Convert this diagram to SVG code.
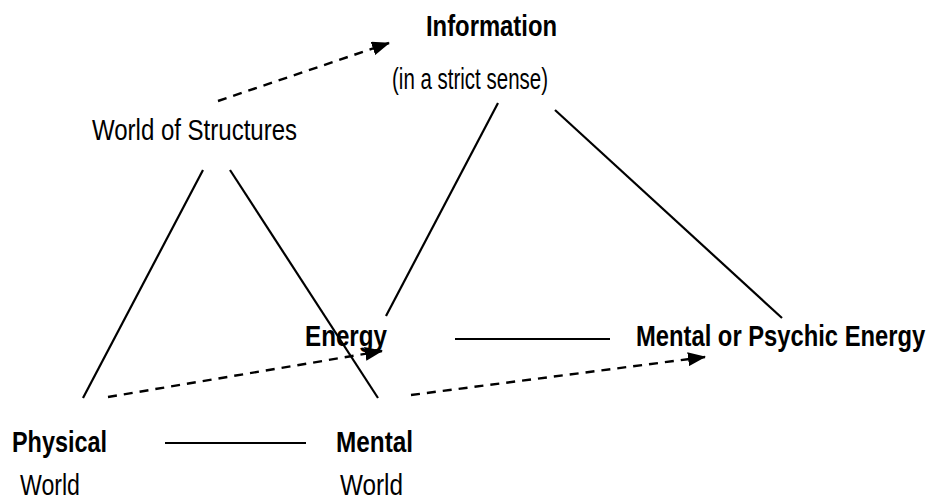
<svg xmlns="http://www.w3.org/2000/svg" width="930" height="503" viewBox="0 0 930 503">
<style>
text{font-family:"Liberation Sans Narrow","Liberation Sans",Arial,sans-serif;font-size:29px;fill:#000}
.b{font-weight:bold}
.s{stroke:#000;stroke-width:2.2;fill:none}
.d{stroke:#000;stroke-width:2.4;fill:none;stroke-dasharray:9 7}
</style>
<defs>
<marker id="ah" markerWidth="18" markerHeight="14" refX="17" refY="7" orient="auto" markerUnits="userSpaceOnUse">
<path d="M0,0 L18,7 L0,14 Z" fill="#000"/>
</marker>
</defs>
<rect width="930" height="503" fill="#fff"/>
<g id="connectors">
<line class="s" x1="203" y1="170" x2="83" y2="398"/>
<line class="s" x1="230" y1="170" x2="378" y2="398"/>
<line class="s" x1="498" y1="103" x2="386" y2="316"/>
<line class="s" x1="555" y1="110" x2="782" y2="318"/>
<line class="s" x1="455" y1="339" x2="610" y2="339"/>
<line class="s" x1="165" y1="443" x2="306" y2="443"/>
<line class="d" x1="218" y1="101" x2="389" y2="43" marker-end="url(#ah)"/>
<line class="d" x1="108" y1="397" x2="382" y2="351" marker-end="url(#ah)"/>
<line class="d" x1="411" y1="395" x2="705" y2="357" marker-end="url(#ah)"/>
</g>
<g id="information">
<text class="b" x="426" y="36" textLength="131" lengthAdjust="spacingAndGlyphs">Information</text>
<text x="392" y="89" textLength="156" lengthAdjust="spacingAndGlyphs">(in a strict sense)</text>
</g>
<g id="world-of-structures">
<text x="92" y="140" textLength="205" lengthAdjust="spacingAndGlyphs">World of Structures</text>
</g>
<g id="energy">
<text class="b" x="305" y="346" textLength="82" lengthAdjust="spacingAndGlyphs">Energy</text>
</g>
<g id="mental-energy">
<text class="b" transform="translate(636,346) scale(0.82,1)" x="0" y="0">Mental or Psychic Energy</text>
</g>
<g id="physical-world">
<text class="b" x="12" y="452" textLength="95" lengthAdjust="spacingAndGlyphs">Physical</text>
<text x="20" y="495" textLength="60" lengthAdjust="spacingAndGlyphs">World</text>
</g>
<g id="mental-world">
<text class="b" x="336" y="452" textLength="77" lengthAdjust="spacingAndGlyphs">Mental</text>
<text x="340" y="495" textLength="63" lengthAdjust="spacingAndGlyphs">World</text>
</g>
</svg>
